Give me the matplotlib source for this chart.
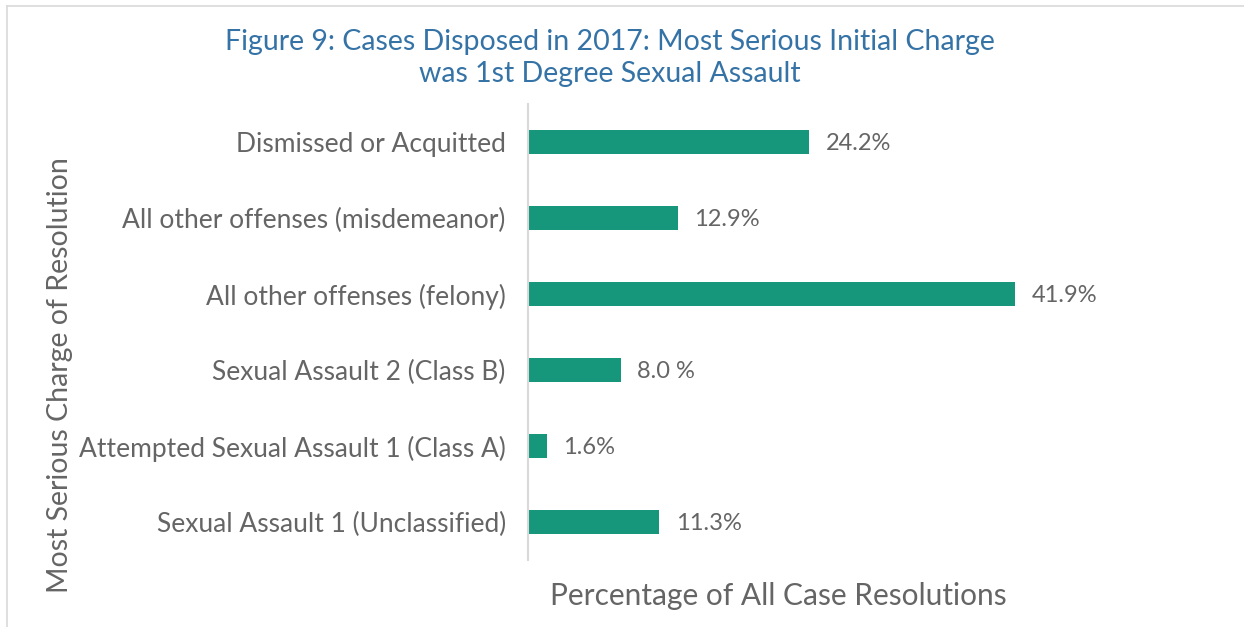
import matplotlib
matplotlib.use("Agg")
import matplotlib.pyplot as plt
from matplotlib.lines import Line2D

plt.rcParams["font.family"] = ["Lato", "DejaVu Sans"]

categories = [
    "Sexual Assault 1 (Unclassified)",
    "Attempted Sexual Assault 1 (Class A)",
    "Sexual Assault 2 (Class B)",
    "All other offenses (felony)",
    "All other offenses (misdemeanor)",
    "Dismissed or Acquitted",
]
values = [11.3, 1.6, 8.0, 41.9, 12.9, 24.2]
value_labels = ["11.3%", "1.6%", "8.0 %", "41.9%", "12.9%", "24.2%"]

BAR = "#16967A"
GREY = "#656565"
BLUE = "#3573A6"

W, H = 1244, 627
fig = plt.figure(figsize=(W / 100, H / 100), dpi=100)
ax = fig.add_axes([528 / W, 1 - 560 / H, 500 / W, 456 / H])

ax.barh(range(len(values)), values, height=0.32, color=BAR)
for i, (v, lab) in enumerate(zip(values, value_labels)):
    ax.text(v + 1.4, i - 0.02, lab, va="center", ha="left", fontsize=17,
            color=GREY, clip_on=False)

ax.set_xlim(0, 43)
ax.set_ylim(-0.5, len(values) - 0.5)
ax.set_yticks(range(len(values)))
ax.set_yticklabels(categories, fontsize=19, color=GREY)
ax.tick_params(axis="y", length=0, pad=16)
ax.set_xticks([])
for s in ["top", "right", "bottom"]:
    ax.spines[s].set_visible(False)
ax.spines["left"].set_color("#D9D9D9")
ax.spines["left"].set_linewidth(1.5)

fig.text(610 / W, 1 - 58 / H,
         "Figure 9: Cases Disposed in 2017: Most Serious Initial Charge\nwas 1st Degree Sexual Assault",
         ha="center", va="center", fontsize=20.5, color=BLUE, linespacing=1.25)
fig.text(778 / W, 1 - 596 / H, "Percentage of All Case Resolutions",
         ha="center", va="center", fontsize=21.5, color=GREY)
fig.text(60 / W, 1 - 375 / H, "Most Serious Charge of Resolution",
         ha="center", va="center", rotation=90, fontsize=20.5, color=GREY)

# outer frame lines (top and left)
fig.add_artist(Line2D([7 / W, 1], [1 - 6 / H, 1 - 6 / H], color="#D9D9D9", lw=1.2))
fig.add_artist(Line2D([7 / W, 7 / W], [0, 1 - 6 / H], color="#D9D9D9", lw=1.2))

fig.savefig("out.png", dpi=100, facecolor="white")
